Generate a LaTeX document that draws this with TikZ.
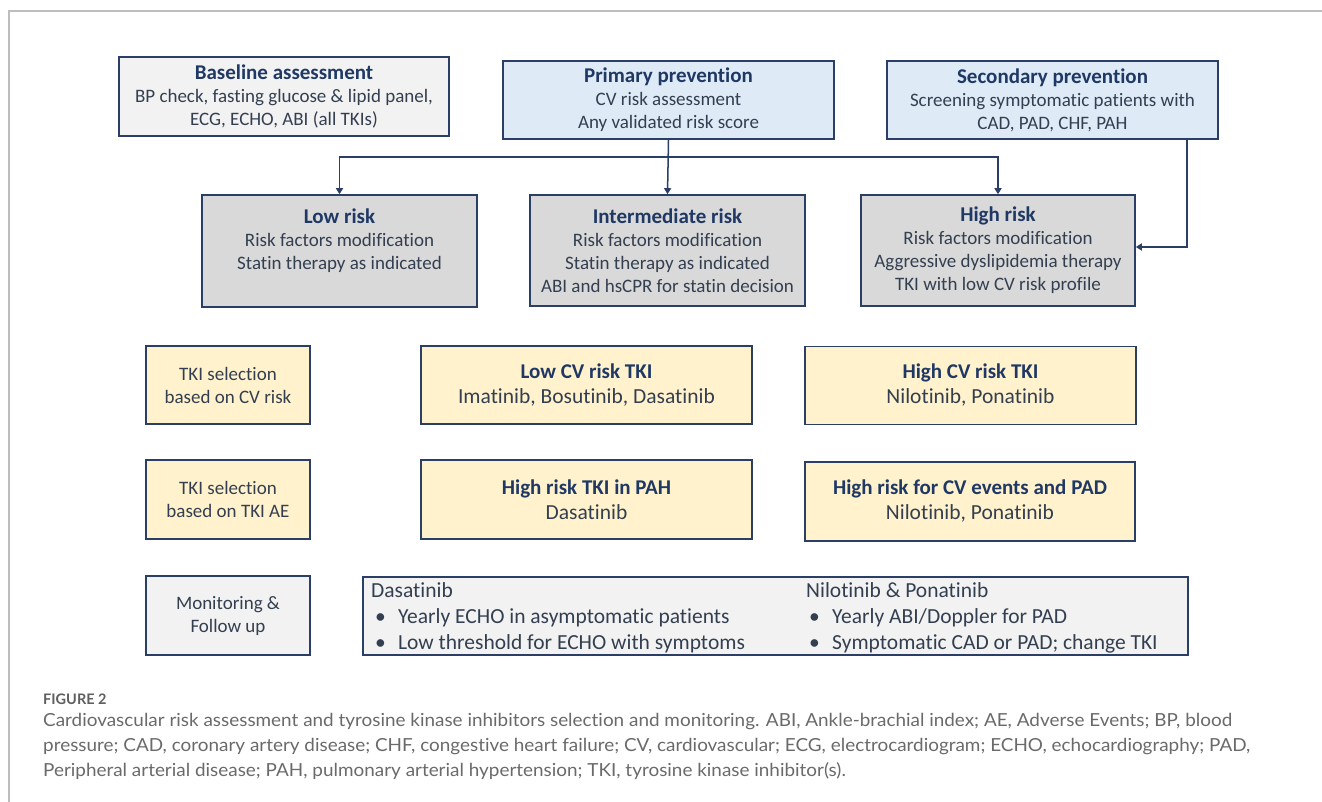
\documentclass[tikz,border=0pt]{standalone}
\usepackage{fontspec}
\usepackage{graphicx}
\setmainfont{Carlito}[Ligatures=NoCommon]
\newfontfamily\capfont{Lato}[Ligatures=NoCommon]
\usetikzlibrary{arrows.meta}
\definecolor{navy}{HTML}{1F3864}
\definecolor{bodytx}{HTML}{333F50}
\definecolor{bordc}{HTML}{2B3F66}
\definecolor{fgray}{HTML}{F2F2F2}
\definecolor{fblue}{HTML}{DEEBF7}
\definecolor{fdark}{HTML}{D9D9D9}
\definecolor{fcream}{HTML}{FFF2CC}
\definecolor{framec}{HTML}{BDBDBD}
\definecolor{capc}{HTML}{6A6A6A}
\newcommand{\ttl}[1]{{\fontsize{21}{25}\selectfont\bfseries\color{navy}#1}}
\newcommand{\bul}[1]{\makebox[23pt][l]{\textbullet}#1}
\newlength{\capw}
\newcommand{\capone}{Cardiovascular risk assessment and tyrosine kinase inhibitors selection and monitoring. ABI, Ankle-brachial index; AE, Adverse Events; BP, blood}
\begin{document}
\begin{tikzpicture}[x=1pt,y=-1pt,
  box/.style={draw=bordc, line width=1.6pt, inner sep=0pt, align=center, text=bodytx},
  small/.style={font=\fontsize{19}{23}\selectfont},
  large/.style={font=\fontsize{21.5}{25}\selectfont},
  arr/.style={draw=bordc, line width=1.5pt, -{Triangle[length=6pt,width=7pt]}},
  capt/.style={anchor=west, inner sep=0pt, text=capc, font=\capfont\fontsize{18}{22}\selectfont}]
\useasboundingbox (0,0) rectangle (1322,802);
\fill[white] (0,0) rectangle (1322,802);
% frame
\draw[framec, line width=1.5pt] (1322,11) -- (9,11) -- (9,802);
% row 1
\node[box, small, fill=fgray, minimum width=330pt, minimum height=79pt] (base) at (284,96.5)
  {\ttl{Baseline assessment}\\BP check, fasting glucose \& lipid panel,\\ECG, ECHO, ABI (all TKIs)};
\node[box, small, fill=fblue, minimum width=331pt, minimum height=78pt] (prim) at (668.5,100)
  {\ttl{Primary prevention}\\CV risk assessment\\Any validated risk score};
\node[box, small, fill=fblue, minimum width=331pt, minimum height=78pt] (sec) at (1052.5,100)
  {\ttl{Secondary prevention}\\Screening symptomatic patients with\\CAD, PAD, CHF, PAH};
% row 2
\node[box, fill=fdark, minimum width=275pt, minimum height=112pt] (low) at (339.5,251) {};
\node[small, text=bodytx, align=center, inner sep=0pt] (lowtxt) at (339.5,240.5)
  {\ttl{Low risk}\\Risk factors modification\\Statin therapy as indicated};
\node[box, small, fill=fdark, minimum width=275pt, minimum height=111pt] (inter) at (667.5,250.5)
  {\ttl{Intermediate risk}\\Risk factors modification\\Statin therapy as indicated\\ABI and hsCPR for statin decision};
\node[box, small, fill=fdark, minimum width=274pt, minimum height=111pt] (high) at (998,250.5)
  {\ttl{High risk}\\Risk factors modification\\Aggressive dyslipidemia therapy\\TKI with low CV risk profile};
% connectors
\coordinate (j) at (668.5,157);
\draw[arr] (prim.south) -- (inter.north);
\draw[arr] (j) -| (low.north);
\draw[arr] (j) -| (high.north);
\draw[arr] ([xshift=134.5pt]sec.south) |- ([yshift=3.5pt]high.east);
% row 3
\node[box, small, fill=fcream, minimum width=164pt, minimum height=78pt] (sel1) at (228,385)
  {TKI selection\\based on CV risk};
\node[box, large, fill=fcream, minimum width=331pt, minimum height=78pt] (lowtki) at (586.5,385)
  {\ttl{Low CV risk TKI}\\Imatinib, Bosutinib, Dasatinib};
\node[box, large, fill=fcream, minimum width=331pt, minimum height=78pt] (hightki) at (970.5,385.5)
  {\ttl{High CV risk TKI}\\Nilotinib, Ponatinib};
% row 4
\node[box, small, fill=fcream, minimum width=164pt, minimum height=79pt] (sel2) at (228,499.5)
  {TKI selection\\based on TKI AE};
\node[box, large, fill=fcream, minimum width=331pt, minimum height=79pt] (pah) at (586.5,499.5)
  {\ttl{High risk TKI in PAH}\\Dasatinib};
\node[box, large, fill=fcream, minimum width=330pt, minimum height=79pt] (pad) at (970,501.5)
  {\ttl{High risk for CV events and PAD}\\Nilotinib, Ponatinib};
% row 5
\node[box, small, fill=fgray, minimum width=164pt, minimum height=79pt] (mon) at (228,615.5)
  {Monitoring \&\\Follow up};
\node[box, fill=fgray, minimum width=825pt, minimum height=78pt] (monbox) at (775.5,616) {};
\node[font=\fontsize{21.5}{26}\selectfont, text=bodytx, align=left, anchor=west, inner sep=0pt] (dasa) at (371,618)
  {Dasatinib\\\hspace*{4pt}\bul{Yearly ECHO in asymptomatic patients}\\\hspace*{4pt}\bul{Low threshold for ECHO with symptoms}};
\node[font=\fontsize{21.5}{26}\selectfont, text=bodytx, align=left, anchor=west, inner sep=0pt] (nilo) at (806,618)
  {Nilotinib \& Ponatinib\\\hspace*{3pt}\bul{Yearly ABI/Doppler for PAD}\\\hspace*{3pt}\bul{Symptomatic CAD or PAD; change TKI}};
% caption
\node[anchor=west, inner sep=0pt, text=capc!90!black, font=\capfont\bfseries\fontsize{14.5}{16}\selectfont] (fig) at (43,699) {FIGURE 2};
\node[capt] (cap1) at (43,722) {\settowidth{\capw}{\capone}\pgfmathsetmacro{\capsx}{1189/\capw}\global\let\capsxg\capsx\scalebox{\capsx}[1]{\capone}};
\node[capt] (cap2) at (43,747) {\scalebox{\capsxg}[1]{pressure; CAD, coronary artery disease; CHF, congestive heart failure; CV, cardiovascular; ECG, electrocardiogram; ECHO, echocardiography; PAD,}};
\node[capt] (cap3) at (43,771) {\scalebox{\capsxg}[1]{Peripheral arterial disease; PAH, pulmonary arterial hypertension; TKI, tyrosine kinase inhibitor(s).}};
\end{tikzpicture}
\end{document}
